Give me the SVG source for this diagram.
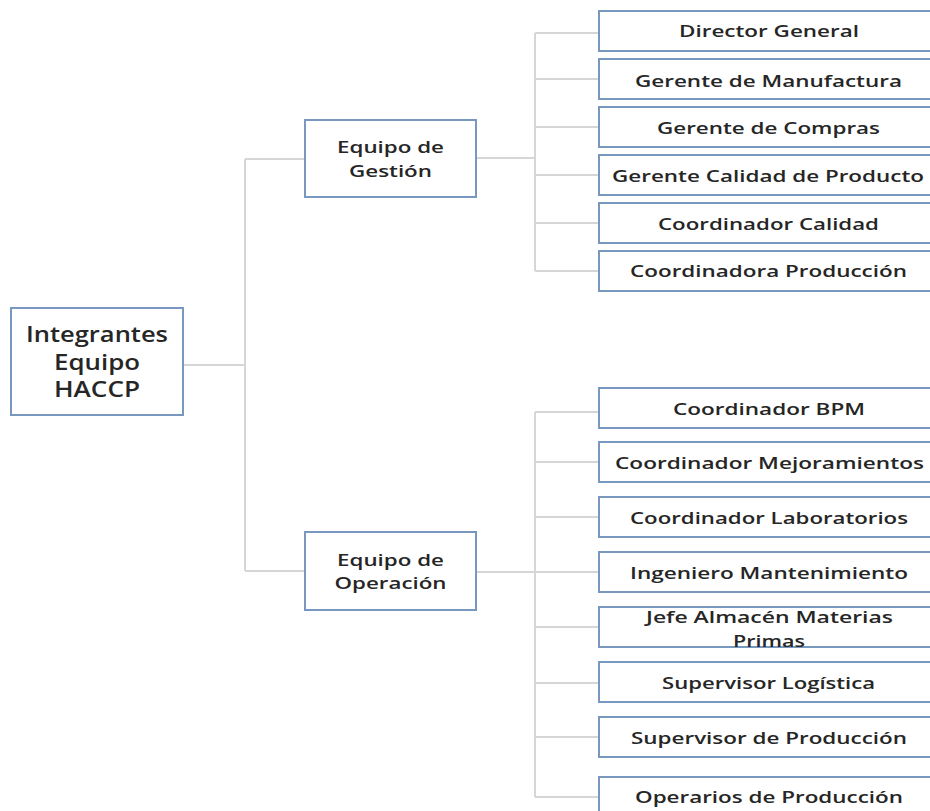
<svg xmlns="http://www.w3.org/2000/svg" width="930" height="811" viewBox="0 0 930 811">
<style>
.box{fill:#ffffff;stroke:#7898bf;stroke-width:2}
.t{font-family:"Open Sans","Noto Sans","DejaVu Sans",sans-serif;font-weight:600;font-size:17px;fill:#262626;text-anchor:middle}
.big{font-size:21px}
.c{stroke:#d6d6d6;stroke-width:2;fill:none}
</style>
<rect width="930" height="811" fill="#ffffff"/>
<g id="connectors">
<path class="c" d="M183 365H245M245 159V571M245 159H305M245 571H305"/>
<path class="c" d="M476 158H535M535 33V271M535 33H598M535 79H598M535 127H598M535 175H598M535 223H598M535 271H598"/>
<path class="c" d="M476 572H598M535 412V797M535 412H598M535 462H598M535 517H598M535 627H598M535 683H598M535 737H598M535 797H598"/>
</g>
<g id="root"><rect class="box" x="11" y="308" width="172" height="107"/>
<text class="t big" x="97" y="342" textLength="142" lengthAdjust="spacingAndGlyphs">Integrantes</text>
<text class="t big" x="97" y="370" textLength="86" lengthAdjust="spacingAndGlyphs">Equipo</text>
<text class="t big" x="97" y="397" textLength="86" lengthAdjust="spacingAndGlyphs">HACCP</text></g>
<g id="gestion"><rect class="box" x="305" y="120" width="171" height="77"/>
<text class="t" x="390.5" y="153" textLength="107" lengthAdjust="spacingAndGlyphs">Equipo de</text>
<text class="t" x="390.5" y="177" textLength="83" lengthAdjust="spacingAndGlyphs">Gestión</text></g>
<g id="operacion"><rect class="box" x="305" y="532" width="171" height="78"/>
<text class="t" x="390.5" y="566" textLength="107" lengthAdjust="spacingAndGlyphs">Equipo de</text>
<text class="t" x="390.5" y="589" textLength="112" lengthAdjust="spacingAndGlyphs">Operación</text></g>
<g id="n1"><rect class="box" x="599" y="11" width="345" height="40"/><text class="t" x="769" y="37" textLength="180" lengthAdjust="spacingAndGlyphs">Director General</text></g>
<g id="n2"><rect class="box" x="599" y="59" width="345" height="40"/><text class="t" x="768.5" y="87" textLength="267" lengthAdjust="spacingAndGlyphs">Gerente de Manufactura</text></g>
<g id="n3"><rect class="box" x="599" y="107" width="345" height="40"/><text class="t" x="768.5" y="134" textLength="223" lengthAdjust="spacingAndGlyphs">Gerente de Compras</text></g>
<g id="n4"><rect class="box" x="599" y="155" width="345" height="40"/><text class="t" x="768" y="182" textLength="312" lengthAdjust="spacingAndGlyphs">Gerente Calidad de Producto</text></g>
<g id="n5"><rect class="box" x="599" y="203" width="345" height="40"/><text class="t" x="768.5" y="230" textLength="221" lengthAdjust="spacingAndGlyphs">Coordinador Calidad</text></g>
<g id="n6"><rect class="box" x="599" y="251" width="345" height="40"/><text class="t" x="768.5" y="277" textLength="277" lengthAdjust="spacingAndGlyphs">Coordinadora Producción</text></g>
<g id="n7"><rect class="box" x="599" y="388" width="345" height="40"/><text class="t" x="769" y="415" textLength="192" lengthAdjust="spacingAndGlyphs">Coordinador BPM</text></g>
<g id="n8"><rect class="box" x="599" y="442" width="345" height="40"/><text class="t" x="769.5" y="469" textLength="309" lengthAdjust="spacingAndGlyphs">Coordinador Mejoramientos</text></g>
<g id="n9"><rect class="box" x="599" y="497" width="345" height="40"/><text class="t" x="769" y="524" textLength="278" lengthAdjust="spacingAndGlyphs">Coordinador Laboratorios</text></g>
<g id="n10"><rect class="box" x="599" y="552" width="345" height="40"/><text class="t" x="769" y="579" textLength="278" lengthAdjust="spacingAndGlyphs">Ingeniero Mantenimiento</text></g>
<g id="n11"><rect class="box" x="599" y="607" width="345" height="40"/><text class="t" x="769.5" y="623" textLength="247" lengthAdjust="spacingAndGlyphs">Jefe Almacén Materias</text><text class="t" x="769" y="647" textLength="72" lengthAdjust="spacingAndGlyphs">Primas</text></g>
<g id="n12"><rect class="box" x="599" y="662" width="345" height="40"/><text class="t" x="768.5" y="689" textLength="213" lengthAdjust="spacingAndGlyphs">Supervisor Logística</text></g>
<g id="n13"><rect class="box" x="599" y="717" width="345" height="40"/><text class="t" x="769" y="744" textLength="276" lengthAdjust="spacingAndGlyphs">Supervisor de Producción</text></g>
<g id="n14"><rect class="box" x="599" y="777" width="345" height="40"/><text class="t" x="769" y="803" textLength="268" lengthAdjust="spacingAndGlyphs">Operarios de Producción</text></g>
</svg>
